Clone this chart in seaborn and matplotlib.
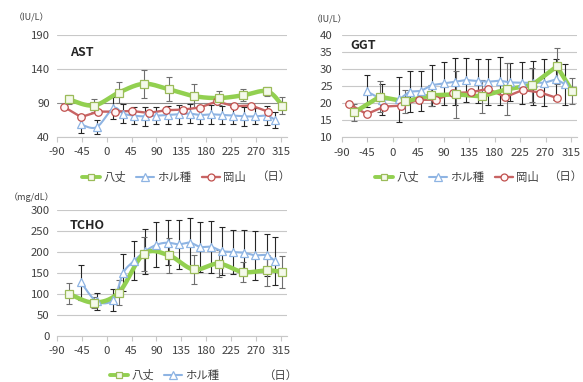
import numpy as np
import pandas as pd
import matplotlib
matplotlib.use("Agg")
import matplotlib.pyplot as plt
import seaborn as sns
from matplotlib.lines import Line2D

# ---- sampling days (day 0 = reference date) ----
hachijo_days = [-68, -23, 22, 67, 112, 157, 202, 246, 290, 317]
holstein_days = [-46, -18, 12, 30, 50, 69, 90, 110, 130, 150, 169, 189, 208, 228, 248, 268, 289, 304]
okayama_days = [-77, -46, -15, 15, 46, 76, 107, 138, 168, 199, 230, 261, 291]

# ---- AST (IU/L) ----
hachijo_ast = [95, 86, 105, 118, 110, 100, 97, 101, 107, 86]
hachijo_ast_sd = [7, 10, 15, 21, 18, 18, 10, 9, 7, 12]
holstein_ast = [58, 54, 82, 74, 71, 70, 71, 72, 73, 74, 72, 73, 72, 71, 70, 70, 71, 65]
holstein_ast_sd = [12, 10, 16, 14, 13, 14, 13, 13, 14, 14, 13, 14, 13, 13, 14, 12, 14, 12]
okayama_ast = [84, 69, 77, 77, 78, 75, 79, 80, 83, 92, 85, 86, 77]

# ---- GGT (IU/L) ----
hachijo_ggt = [17.3, 21.9, 20.5, 22.3, 22.6, 22.0, 24.1, 25.3, 30.8, 23.6]
hachijo_ggt_sd = [2.5, 4.5, 3.5, 3.0, 6.8, 4.8, 7.6, 5.0, 5.3, 3.9]
holstein_ggt = [23.5, 21.0, 21.2, 23.4, 23.6, 25.3, 25.8, 26.3, 26.8, 26.5, 26.3, 26.6, 26.1, 26.0, 26.0, 26.0, 27.0, 25.6]
holstein_ggt_sd = [4.7, 4.5, 6.6, 6.0, 5.8, 6.0, 6.2, 6.9, 6.4, 6.5, 6.7, 7.0, 5.6, 6.2, 6.5, 6.9, 6.0, 6.0]
okayama_ggt = [19.8, 16.8, 19.0, 19.3, 21.0, 21.0, 23.0, 23.2, 24.2, 21.8, 23.9, 23.1, 21.5]

# ---- TCHO (mg/dL) ----
hachijo_tcho = [100, 79, 103, 195, 192, 158, 172, 152, 156, 152]
hachijo_tcho_sd = [25, 13, 30, 40, 42, 35, 33, 25, 37, 38]
holstein_tcho = [127, 82, 86, 150, 179, 201, 217, 222, 218, 222, 212, 212, 202, 200, 198, 192, 192, 178]
holstein_tcho_sd = [41, 21, 26, 44, 46, 54, 54, 54, 58, 60, 60, 62, 58, 52, 54, 58, 50, 58]

series_names = ["八丈", "ホル種", "岡山"]
day_ticks = list(range(-90, 316, 45))

sns.set_theme(style="white")
plt.rcParams["font.family"] = ["Noto Sans CJK JP", "DejaVu Sans"]
plt.rcParams["axes.unicode_minus"] = False

TEXT = "#404040"
GRID = "#C8C8C8"

STYLES = {
    "八丈": dict(color="#92D050", lw=3.2, marker="s", ms=5.2, mfc="#F4F9EA", mec="#9BBB59",
                 mew=0.9, ecolor="#6E6E6E"),
    "ホル種": dict(color="#8EB4E3", lw=1.5, marker="^", ms=5.8, mfc="#FFFFFF", mec="#8EB4E3",
                  mew=0.9, ecolor="#262626"),
    "岡山": dict(color="#C86464", lw=1.7, marker="o", ms=5.4, mfc="#FFF6F6", mec="#C0504D",
                mew=0.9, ecolor="#262626"),
}


def smooth_curve(x, y, steps=20):
    """Catmull-Rom curve through the given points (drawing only)."""
    p = np.column_stack([x, y]).astype(float)
    out = []
    n = len(p)
    for i in range(n - 1):
        p0 = p[i - 1] if i > 0 else p[i]
        p1, p2 = p[i], p[i + 1]
        p3 = p[i + 2] if i + 2 < n else p[i + 1]
        t = np.linspace(0, 1, steps, endpoint=(i == n - 2))[:, None]
        seg = 0.5 * ((2 * p1) + (-p0 + p2) * t + (2 * p0 - 5 * p1 + 4 * p2 - p3) * t ** 2
                     + (-p0 + 3 * p1 - 3 * p2 + p3) * t ** 3)
        out.append(seg)
    c = np.vstack(out)
    return c[:, 0], c[:, 1]


def draw_series(ax, name, days, vals, sd=None, smooth=False):
    st = STYLES[name]
    if sd is not None:
        ax.errorbar(days, vals, yerr=sd, fmt="none", ecolor=st["ecolor"], elinewidth=0.8,
                    capsize=2, capthick=0.8, zorder=2)
    if smooth:
        xs, ys = smooth_curve(days, vals)
    else:
        xs, ys = np.asarray(days, float), np.asarray(vals, float)
    df = pd.DataFrame({"day": xs, "value": ys})
    sns.lineplot(data=df, x="day", y="value", ax=ax, sort=False, estimator=None,
                 color=st["color"], lw=st["lw"], zorder=3)
    ax.plot(days, vals, ls="none", marker=st["marker"], ms=st["ms"], mfc=st["mfc"],
            mec=st["mec"], mew=st["mew"], zorder=4)


def style_axes(ax, ylim, yticks):
    ax.set_xlim(-90, 325)
    ax.set_ylim(*ylim)
    ax.set_xticks(day_ticks)
    ax.set_yticks(yticks)
    ax.set_xlabel("")
    ax.set_ylabel("")
    for s in ["top", "right", "left"]:
        ax.spines[s].set_visible(False)
    ax.spines["bottom"].set_color(GRID)
    ax.spines["bottom"].set_linewidth(0.8)
    ax.yaxis.grid(True, color=GRID, lw=0.8)
    ax.xaxis.grid(False)
    ax.set_axisbelow(True)
    ax.tick_params(axis="x", bottom=True, length=3.5, width=0.8, color=GRID, pad=4,
                   labelsize=8.2, labelcolor=TEXT)
    ax.tick_params(axis="y", left=False, length=0, pad=5, labelsize=8.2, labelcolor=TEXT)


def legend_handle(name):
    st = STYLES[name]
    return Line2D([], [], color=st["color"], lw=st["lw"] if name != "八丈" else 2.8,
                  marker=st["marker"], ms=st["ms"] - 0.4, mfc=st["mfc"], mec=st["mec"],
                  mew=st["mew"])


W, H = 583, 382
fig = plt.figure(figsize=(W / 100, H / 100), dpi=100)
fig.patch.set_facecolor("white")


def px_axes(x0, x1, ytop, ybot):
    return fig.add_axes([x0 / W, 1 - ybot / H, (x1 - x0) / W, (ybot - ytop) / H])


# ---- AST ----
ax1 = px_axes(56.7, 286.7, 35, 136.7)
draw_series(ax1, "ホル種", holstein_days, holstein_ast, holstein_ast_sd, smooth=True)
draw_series(ax1, "岡山", okayama_days, okayama_ast)
draw_series(ax1, "八丈", hachijo_days, hachijo_ast, hachijo_ast_sd, smooth=True)
style_axes(ax1, (40, 190), [40, 90, 140, 190])
for val, gl in zip(ax1.get_yticks(), ax1.get_ygridlines()):
    if val == 90:
        gl.set_color("#8C8C8C")
ax1.text(0.058, 0.83, "AST", transform=ax1.transAxes, fontsize=9, color="#262626",
         ha="left", va="center", fontweight="bold")

# ---- GGT ----
ax2 = px_axes(341.7, 576.7, 35, 137.3)
draw_series(ax2, "ホル種", holstein_days, holstein_ggt, holstein_ggt_sd)
draw_series(ax2, "岡山", okayama_days, okayama_ggt)
draw_series(ax2, "八丈", hachijo_days, hachijo_ggt, hachijo_ggt_sd)
style_axes(ax2, (10, 40), list(range(10, 41, 5)))
ax2.tick_params(axis="y", pad=6.5)
ax2.text(0.035, 0.90, "GGT", transform=ax2.transAxes, fontsize=9, color="#262626",
         ha="left", va="center", fontweight="bold")

# ---- TCHO ----
ax3 = px_axes(56.7, 286.7, 210, 335.7)
draw_series(ax3, "ホル種", holstein_days, holstein_tcho, holstein_tcho_sd, smooth=True)
draw_series(ax3, "八丈", hachijo_days, hachijo_tcho, hachijo_tcho_sd, smooth=True)
style_axes(ax3, (0, 300), list(range(0, 301, 50)))
ax3.text(0.058, 0.88, "TCHO", transform=ax3.transAxes, fontsize=9, color="#262626",
         ha="left", va="center", fontweight="bold")

# ---- units ----
fig.text(31 / W, 1 - 18 / H, "（IU/L）", fontsize=6.5, color=TEXT, ha="center", va="center")
fig.text(330 / W, 1 - 20 / H, "（IU/L）", fontsize=6.5, color=TEXT, ha="center", va="center")
fig.text(32 / W, 1 - 197 / H, "（mg/dL）", fontsize=6.5, color=TEXT, ha="center", va="center")

# ---- legends ----
leg_kw = dict(frameon=False, handlelength=1.6, handletextpad=0.25, columnspacing=0.9,
              borderaxespad=0, borderpad=0, fontsize=8.2, labelcolor=TEXT, loc="center left")
fig.legend([legend_handle(n) for n in series_names], series_names, ncol=3,
           bbox_to_anchor=(82 / W, 1 - 177 / H), **leg_kw)
fig.text(273 / W, 1 - 176 / H, "（日）", fontsize=8.2, color=TEXT, ha="center", va="center")

fig.legend([legend_handle(n) for n in series_names], series_names, ncol=3,
           bbox_to_anchor=(375 / W, 1 - 177 / H), **leg_kw)
fig.text(565 / W, 1 - 176 / H, "（日）", fontsize=8.2, color=TEXT, ha="center", va="center")

fig.legend([legend_handle(n) for n in series_names[:2]], series_names[:2], ncol=2,
           bbox_to_anchor=(110 / W, 1 - 375 / H), **leg_kw)
fig.text(280 / W, 1 - 375 / H, "（日）", fontsize=8.2, color=TEXT, ha="center", va="center")

fig.savefig("out.png", dpi=100, facecolor="white")
